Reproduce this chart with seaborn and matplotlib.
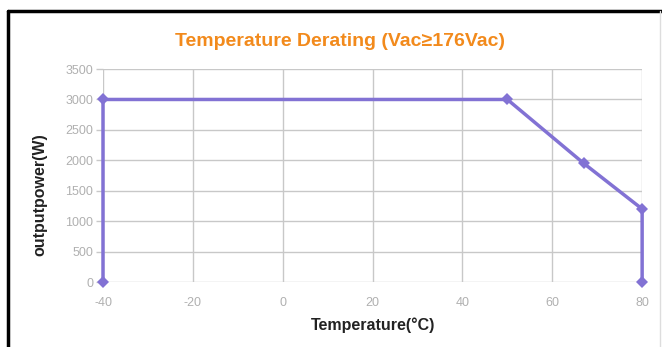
import pandas as pd
import matplotlib.pyplot as plt
import seaborn as sns
from matplotlib.lines import Line2D

# Data
temperature = [-40, -40, 50, 67, 80, 80]
power = [0, 3000, 3000, 1950, 1200, 0]
x_ticks = [-40, -20, 0, 20, 40, 60, 80]
y_ticks = [0, 500, 1000, 1500, 2000, 2500, 3000, 3500]

df = pd.DataFrame({'Temperature': temperature, 'Power': power})

sns.set_theme(style="white")
plt.rcParams['font.family'] = ['Liberation Sans', 'DejaVu Sans']
plt.rcParams['axes.unicode_minus'] = False

fig = plt.figure(figsize=(6.62, 3.47), dpi=100)
ax = fig.add_axes([0.1556, 0.1873, 0.8144, 0.6137])

sns.lineplot(data=df, x='Temperature', y='Power', sort=False, estimator=None,
             ax=ax, color='#8272d4', linewidth=2.5, marker='D', markersize=6.5,
             markeredgewidth=0, zorder=3, clip_on=False)

ax.set_xlim(-40, 80)
ax.set_ylim(0, 3500)
ax.set_xticks(x_ticks)
ax.set_yticks(y_ticks)
ax.grid(True, color='#c8c8c8', linewidth=1)
for s in ax.spines.values():
    s.set_visible(False)
ax.tick_params(axis='both', colors='#b0b0b0', labelsize=9, length=5,
               width=1, left=True, bottom=False, pad=2)
ax.tick_params(axis='y', colors='#c8c8c8', labelcolor='#b0b0b0')
ax.tick_params(axis='x', pad=6)

ax.set_xlabel('Temperature(°C)', fontsize=11.5, fontweight='bold',
              color='#222222', labelpad=6)
ax.set_ylabel('outputpower(W)', fontsize=11.5, fontweight='bold',
              color='#222222')
ax.yaxis.set_label_coords(-0.104, 0.41)
fig.text(0.513, 0.88, 'Temperature Derating (Vac≥176Vac)', ha='center',
         va='center', fontsize=14, fontweight='bold', color='#f28a1c')

# Outer frame
fig.add_artist(Line2D([0.012, 1.0], [0.968, 0.968], color='black', linewidth=2.5,
                      transform=fig.transFigure))
fig.add_artist(Line2D([0.012, 0.012], [0.0, 0.968], color='black', linewidth=2.5,
                      transform=fig.transFigure))
fig.add_artist(Line2D([0.997, 0.997], [0.0, 0.968], color='#dddddd', linewidth=1,
                      transform=fig.transFigure))

fig.savefig('out.png', dpi=100)
